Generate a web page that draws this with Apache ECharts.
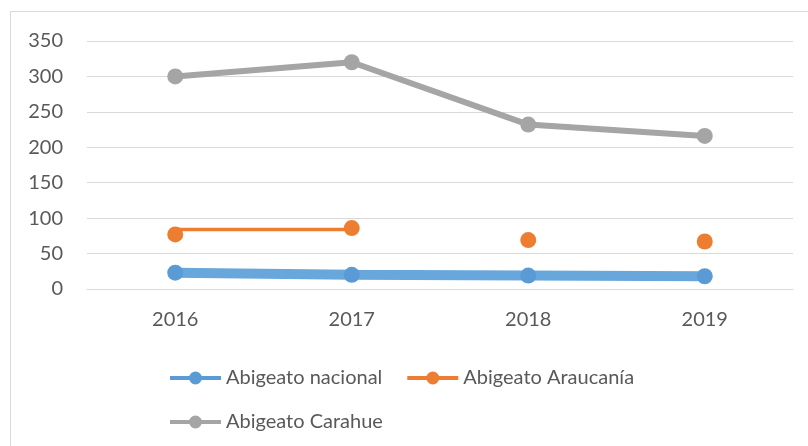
<!DOCTYPE html>
<html>
<head>
<meta charset="utf-8">
<script src="https://cdn.jsdelivr.net/npm/echarts@6/dist/echarts.min.js"></script>
<style>
    html, body { margin: 0; padding: 0; background: #fff; }
    #char { width: 808px; height: 446px; }
</style>
</head>
<body>
<div id="char"></div>
<script>
// datos
const years = ['2016', '2017', '2018', '2019'];
const nacional = [23, 20, 19, 18];
const araucania = [77, 86, 69, 67];
const araucaniaTramo = [84, 84, null, null]; // tramo de linea visible solo entre 2016 y 2017
const carahue = [300, 320, 232, 216];
const yTicks = { min: 0, max: 350, interval: 50 };

const legendIcon = 'path://M0,5L51,5L51,9L0,9Z M19,7A6.5,6.5 0 1,1 32,7A6.5,6.5 0 1,1 19,7Z';
const font = 'Lato, "Open Sans", sans-serif';

const charEch = echarts.init(document.getElementById('char'), null, { renderer: 'canvas' });

const legendBase = {
    orient: 'horizontal',
    left: 165,
    itemWidth: 51,
    itemHeight: 14,
    itemGap: 25,
    textStyle: { color: '#595959', fontSize: 20, fontFamily: font },
    icon: legendIcon,
    itemStyle: { borderWidth: 0 }
};

const option = {
    animation: false,
    backgroundColor: '#fff',
    graphic: [{
        type: 'rect',
        shape: { x: 10.5, y: 11.5, width: 900, height: 600 },
        style: { fill: 'none', stroke: '#D9D9D9', lineWidth: 1 },
        silent: true
    }],
    grid: { left: 87, right: 15, top: 41, bottom: 157, containLabel: false },
    legend: [
        Object.assign({}, legendBase, { top: 363, data: ['Abigeato nacional', 'Abigeato Araucanía'] }),
        Object.assign({}, legendBase, { top: 407, data: ['Abigeato Carahue'] })
    ],
    xAxis: {
        type: 'category',
        data: years,
        boundaryGap: true,
        axisLine: { lineStyle: { color: '#D9D9D9', width: 1 } },
        axisTick: { show: false },
        axisLabel: { color: '#595959', fontSize: 20, fontFamily: font, margin: 21 }
    },
    yAxis: {
        type: 'value',
        min: yTicks.min,
        max: yTicks.max,
        interval: yTicks.interval,
        axisLine: { show: false },
        axisTick: { show: false },
        splitLine: { lineStyle: { color: '#D9D9D9', width: 1 } },
        axisLabel: { color: '#595959', fontSize: 20, fontFamily: font, margin: 24 }
    },
    series: [
        {
            name: 'Abigeato nacional',
            type: 'line',
            data: nacional,
            symbol: 'circle',
            symbolSize: 16,
            itemStyle: { color: '#5B9BD5' },
            lineStyle: { color: '#68A7DB', width: 10 },
            z: 2
        },
        {
            name: 'Abigeato Araucanía',
            type: 'line',
            data: araucania,
            symbol: 'circle',
            symbolSize: 16,
            itemStyle: { color: '#ED7D31' },
            lineStyle: { width: 0, opacity: 0 },
            z: 4
        },
        {
            name: 'Abigeato Araucanía',
            type: 'line',
            data: araucaniaTramo,
            showSymbol: false,
            symbol: 'none',
            itemStyle: { color: '#ED7D31' },
            lineStyle: { color: '#ED7D31', width: 3.5 },
            z: 3
        },
        {
            name: 'Abigeato Carahue',
            type: 'line',
            data: carahue,
            symbol: 'circle',
            symbolSize: 16,
            itemStyle: { color: '#A5A5A5' },
            lineStyle: { color: '#A5A5A5', width: 6 },
            z: 5
        }
    ]
};
charEch.setOption(option, true);
</script>
</body>
</html>
